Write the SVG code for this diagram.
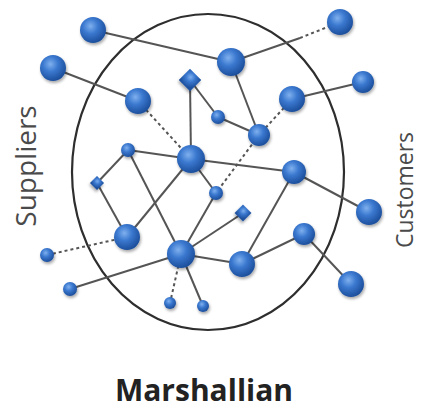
<svg xmlns="http://www.w3.org/2000/svg" width="421" height="411" viewBox="0 0 421 411">
<defs>
<radialGradient id="ball" cx="0.4" cy="0.35" r="0.65">
<stop offset="0" stop-color="#7fb0ee"/>
<stop offset="0.45" stop-color="#3a78cf"/>
<stop offset="1" stop-color="#1d4f9c"/>
</radialGradient>
<filter id="sh" x="-50%" y="-50%" width="200%" height="200%">
<feGaussianBlur in="SourceAlpha" stdDeviation="1.5"/>
<feOffset dx="1" dy="2" result="b"/>
<feComponentTransfer><feFuncA type="linear" slope="0.35"/></feComponentTransfer>
<feMerge><feMergeNode/><feMergeNode in="SourceGraphic"/></feMerge>
</filter>
</defs>
<style>
.e{stroke:#555;stroke-width:2;fill:none}
.d{stroke:#555;stroke-width:2;fill:none;stroke-dasharray:3 3}
.n{fill:url(#ball);filter:url(#sh)}
.t{font-family:"Open Sans","Liberation Sans",sans-serif;fill:#4a4a4a}
</style>
<rect width="421" height="411" fill="#fff"/>
<ellipse cx="208" cy="172" rx="136" ry="158" fill="none" stroke="#2e2e2e" stroke-width="2.2"/>
<g id="connectors">
<line class="e" x1="93" y1="30" x2="231" y2="62"/>
<line class="e" x1="231" y1="62" x2="300" y2="38"/>
<line class="d" x1="300" y1="38" x2="340" y2="22"/>
<line class="e" x1="53" y1="68" x2="138" y2="101"/>
<line class="d" x1="138" y1="101" x2="191" y2="159"/>
<line class="e" x1="190" y1="80" x2="191" y2="159"/>
<line class="e" x1="190" y1="80" x2="218" y2="117"/>
<line class="e" x1="218" y1="117" x2="259" y2="135"/>
<line class="e" x1="231" y1="62" x2="259" y2="135"/>
<line class="d" x1="292" y1="99" x2="259" y2="135" stroke-dasharray="3 9"/>
<line class="e" x1="363" y1="82" x2="292" y2="99"/>
<line class="d" x1="259" y1="135" x2="216" y2="193"/>
<line class="e" x1="128" y1="150" x2="191" y2="159"/>
<line class="e" x1="128" y1="150" x2="97" y2="183"/>
<line class="e" x1="128" y1="150" x2="181" y2="254"/>
<line class="e" x1="97" y1="183" x2="127" y2="237"/>
<line class="e" x1="127" y1="237" x2="191" y2="159"/>
<line class="d" x1="47" y1="255" x2="127" y2="237"/>
<line class="e" x1="70" y1="289" x2="181" y2="254"/>
<line class="d" x1="181" y1="254" x2="170" y2="303"/>
<line class="e" x1="181" y1="254" x2="203" y2="306"/>
<line class="e" x1="181" y1="254" x2="216" y2="193"/>
<line class="e" x1="181" y1="254" x2="243" y2="213"/>
<line class="e" x1="181" y1="254" x2="242" y2="264"/>
<line class="e" x1="191" y1="159" x2="294" y2="172"/>
<line class="e" x1="191" y1="159" x2="216" y2="193"/>
<line class="e" x1="294" y1="172" x2="242" y2="264"/>
<line class="e" x1="294" y1="172" x2="369" y2="212"/>
<line class="e" x1="242" y1="264" x2="304" y2="234"/>
<line class="e" x1="304" y1="234" x2="351" y2="284"/>
</g>
<g id="A"><circle class="n" cx="93" cy="30" r="13"/></g>
<g id="B"><circle class="n" cx="340" cy="22" r="13"/></g>
<g id="C"><circle class="n" cx="231" cy="62" r="14"/></g>
<g id="D"><circle class="n" cx="53" cy="68" r="13"/></g>
<g id="E"><circle class="n" cx="363" cy="82" r="11"/></g>
<g id="F"><circle class="n" cx="292" cy="99" r="13"/></g>
<g id="G"><circle class="n" cx="138" cy="101" r="13"/></g>
<g id="H"><rect class="n" x="182" y="72" width="16" height="16" transform="rotate(45 190 80)"/></g>
<g id="I"><circle class="n" cx="218" cy="117" r="7"/></g>
<g id="J"><circle class="n" cx="259" cy="135" r="11"/></g>
<g id="K"><circle class="n" cx="128" cy="150" r="7"/></g>
<g id="L"><circle class="n" cx="191" cy="159" r="14"/></g>
<g id="M"><rect class="n" x="92" y="178" width="10" height="10" transform="rotate(45 97 183)"/></g>
<g id="N"><circle class="n" cx="294" cy="172" r="12"/></g>
<g id="O"><circle class="n" cx="216" cy="193" r="7"/></g>
<g id="P"><rect class="n" x="237" y="207" width="12" height="12" transform="rotate(45 243 213)"/></g>
<g id="Q"><circle class="n" cx="369" cy="212" r="13"/></g>
<g id="R"><circle class="n" cx="127" cy="237" r="13"/></g>
<g id="S"><circle class="n" cx="304" cy="234" r="11"/></g>
<g id="T"><circle class="n" cx="181" cy="254" r="14"/></g>
<g id="U"><circle class="n" cx="242" cy="264" r="13"/></g>
<g id="V"><circle class="n" cx="47" cy="255" r="7"/></g>
<g id="W"><circle class="n" cx="70" cy="289" r="7"/></g>
<g id="X"><circle class="n" cx="351" cy="284" r="13"/></g>
<g id="Y"><circle class="n" cx="170" cy="303" r="6"/></g>
<g id="Z"><circle class="n" cx="203" cy="306" r="6"/></g>
<text class="t" font-size="28" text-anchor="middle" transform="translate(36 166) rotate(-90)">Suppliers</text>
<text class="t" font-size="23" text-anchor="middle" transform="translate(413 190) rotate(-90)">Customers</text>
<text font-family="'Open Sans','Liberation Sans',sans-serif" font-weight="bold" font-size="30" fill="#222" text-anchor="middle" x="204" y="401">Marshallian</text>
</svg>
